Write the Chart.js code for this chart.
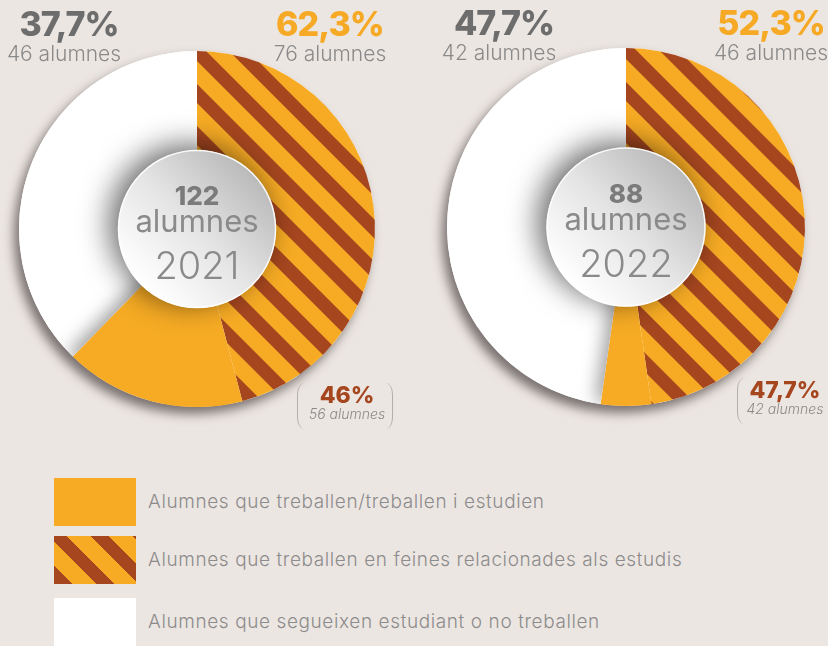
<!DOCTYPE html>
<html>
<head>
<meta charset="utf-8">
<script src="https://cdn.jsdelivr.net/npm/chart.js@4.4.0/dist/chart.umd.min.js"></script>
<style>
  html, body { margin: 0; padding: 0; }
  body {
    width: 828px; height: 646px; overflow: hidden; position: relative;
    background: #ece6e2; font-family: Inter, "Open Sans", sans-serif;
  }
  canvas.pie { position: absolute; }
  .etq { position: absolute; width: 200px; text-align: center; white-space: nowrap; z-index: 2; }
  .pct { font-weight: 800; font-size: 34px; line-height: 36px; letter-spacing: -1px; }
  .num { font-weight: 300; font-size: 21px; line-height: 21px; color: #8a8a8a; }
  .gris { color: #6d6d6d; }
  .taronja { color: #f6a924; }
  .marro { color: #a5461f; font-weight: 800; font-size: 23px; line-height: 23px; }
  .cursiva { font-style: italic; font-weight: 300; font-size: 14px; line-height: 14px; color: #8a8a8a; }
  .par { position: absolute; width: 14px; height: 46px; z-index: 2; border-radius: 100% / 50%; }
  .par.esq { border-left: 1.3px solid #b3adab; }
  .par.dre { border-right: 1.3px solid #b3adab; }
  .llegenda { position: absolute; left: 54px; height: 48px; z-index: 2; }
  .llegenda .mostra { position: absolute; left: 0; top: 0; width: 82px; height: 48px; }
  .llegenda .text { position: absolute; left: 94px; top: 12px; font-size: 19px; letter-spacing: 0.6px; line-height: 24px; font-weight: 300; color: #8c8c8c; white-space: nowrap; }
</style>
</head>
<body>
<canvas id="pie2021" class="pie" width="400" height="400" style="left:-3px; top:29px"></canvas>
<canvas id="pie2022" class="pie" width="400" height="400" style="left:426px; top:27px"></canvas>
<script>
// Dades per curs
const anys = ['2021', '2022'];
const categories = [
  'Alumnes que treballen/treballen i estudien',
  'Alumnes que treballen en feines relacionades als estudis',
  'Alumnes que segueixen estudiant o no treballen'
];
const relacionades = [56, 42];     // treballen en feines relacionades
const nomesTreballen = [20, 4];    // treballen, però no relacionat
const noTreballen = [46, 42];      // segueixen estudiant o no treballen
const pctTreballen = ['62,3%', '52,3%'];
const pctNoTreballen = ['37,7%', '47,7%'];
const pctRelacionades = ['46%', '47,7%'];

const TARONJA = '#f7ab24';
const MARRO = '#a5461f';
const BLANC = '#ffffff';

// patró de ratlles diagonals
function ferRatllat() {
  const P = 42, w = 19;
  const c = document.createElement('canvas');
  c.width = P; c.height = P;
  const g = c.getContext('2d');
  g.fillStyle = TARONJA;
  g.fillRect(0, 0, P, P);
  g.fillStyle = MARRO;
  for (let k = -P; k <= P; k += P) {
    g.beginPath();
    g.moveTo(k, 0);
    g.lineTo(k + w, 0);
    g.lineTo(k + w + P, P);
    g.lineTo(k + P, P);
    g.closePath();
    g.fill();
  }
  return g.createPattern(c, 'repeat');
}
const ratllat = ferRatllat();

// ombres, disc central i textos del centre
const ombres = {
  id: 'ombres',
  beforeDatasetsDraw(chart) {
    const arc = chart.getDatasetMeta(0).data[0];
    const ctx = chart.ctx;
    ctx.save();
    ctx.shadowColor = 'rgba(60,50,50,0.65)';
    ctx.shadowBlur = 11;
    ctx.shadowOffsetX = -5;
    ctx.shadowOffsetY = 7;
    ctx.fillStyle = '#fff';
    ctx.beginPath();
    ctx.arc(arc.x, arc.y, arc.outerRadius, 0, Math.PI * 2);
    ctx.fill();
    ctx.restore();
  },
  afterDatasetsDraw(chart, args, opts) {
    const meta = chart.getDatasetMeta(0);
    const taronja = meta.data[1], blanc = meta.data[2];
    const ctx = chart.ctx;
    const x = blanc.x, y = blanc.y, R = blanc.outerRadius;

    // ombra del tros taronja sobre el blanc
    ctx.save();
    ctx.beginPath();
    ctx.moveTo(x, y);
    ctx.arc(x, y, R, blanc.startAngle, blanc.endAngle);
    ctx.closePath();
    ctx.clip();
    ctx.shadowColor = 'rgba(0,0,0,0.38)';
    ctx.shadowBlur = 18;
    ctx.shadowOffsetX = -10000 - 5;
    ctx.shadowOffsetY = -3;
    ctx.translate(10000, 0);
    ctx.beginPath();
    ctx.moveTo(x, y);
    ctx.arc(x, y, R, taronja.startAngle, taronja.endAngle);
    ctx.closePath();
    ctx.fillStyle = '#000';
    ctx.fill();
    ctx.restore();

    // disc central
    const r = R * 0.444;
    ctx.save();
    ctx.shadowColor = 'rgba(0,0,0,0.6)';
    ctx.shadowBlur = 30;
    ctx.shadowOffsetX = -8;
    ctx.shadowOffsetY = -5;
    const g = ctx.createLinearGradient(x - r * 0.7, y + r * 0.7, x + r * 0.7, y - r * 0.7);
    g.addColorStop(0, '#ffffff');
    g.addColorStop(0.5, '#e4e4e4');
    g.addColorStop(1, '#bababa');
    ctx.fillStyle = g;
    ctx.beginPath();
    ctx.arc(x, y, r, 0, Math.PI * 2);
    ctx.fill();
    ctx.restore();
    ctx.save();
    ctx.strokeStyle = 'rgba(255,255,255,0.9)';
    ctx.lineWidth = 1.5;
    ctx.beginPath();
    ctx.arc(x, y, r - 0.5, 0, Math.PI * 2);
    ctx.stroke();

    // textos del centre
    const total = chart.data.datasets[0].data.reduce((a, b) => a + b, 0);
    ctx.textAlign = 'center';
    ctx.textBaseline = 'alphabetic';
    ctx.fillStyle = '#7b7b7b';
    ctx.font = '800 26px Inter, sans-serif';
    ctx.fillText(String(total), x, y - 24);
    ctx.fillStyle = '#8a8a8a';
    ctx.font = '400 31px Inter, sans-serif';
    ctx.fillText('alumnes', x, y + 3);
    ctx.font = '300 38px Inter, sans-serif';
    ctx.fillText(opts.any, x, y + 50);
    ctx.restore();
  }
};

anys.forEach((any, i) => {
  new Chart(document.getElementById('pie' + any), {
    type: 'pie',
    data: {
      labels: [categories[1], categories[0], categories[2]],
      datasets: [{
        data: [relacionades[i], nomesTreballen[i], noTreballen[i]],
        backgroundColor: [ratllat, TARONJA, BLANC],
        borderWidth: 0,
        hoverOffset: 0
      }]
    },
    options: {
      responsive: false,
      animation: false,
      layout: { padding: i === 0 ? 22 : 21 },
      plugins: {
        legend: { display: false },
        tooltip: { enabled: false },
        ombres: { any: any }
      }
    },
    plugins: [ombres]
  });
});

// etiquetes de valors
function etiqueta(text, cls, cx, top) {
  const d = document.createElement('div');
  d.className = 'etq ' + cls;
  d.style.left = (cx - 100) + 'px';
  d.style.top = top + 'px';
  d.textContent = text;
  document.body.appendChild(d);
}
const posNo = [69, 504], posSi = [330, 771], posRel = [347, 785];
const topRel = [384, 379];
anys.forEach((any, i) => {
  etiqueta(pctNoTreballen[i], 'pct gris', posNo[i], 6 - i);
  etiqueta(noTreballen[i] + ' alumnes', 'num', posNo[i] - 5, 43 - i);
  etiqueta(pctTreballen[i], 'pct taronja', posSi[i], 6 - i);
  etiqueta((relacionades[i] + nomesTreballen[i]) + ' alumnes', 'num', posSi[i], 43 - i);
  etiqueta(pctRelacionades[i], 'marro', posRel[i], topRel[i]);
  etiqueta(relacionades[i] + ' alumnes', 'cursiva', posRel[i], topRel[i] + 23);
});

// parèntesis
[[297, 383, 'esq'], [378, 383, 'dre'], [737, 378, 'esq']].forEach(p => {
  const d = document.createElement('div');
  d.className = 'par ' + p[2];
  d.style.left = p[0] + 'px';
  d.style.top = p[1] + 'px';
  document.body.appendChild(d);
});

// llegenda
const mostres = [
  TARONJA,
  'repeating-linear-gradient(45deg, ' + MARRO + ' 0 13.4px, ' + TARONJA + ' 13.4px 29.7px)',
  BLANC
];
const topsLlegenda = [478, 536, 598];
categories.forEach((cat, i) => {
  const fila = document.createElement('div');
  fila.className = 'llegenda';
  fila.style.top = topsLlegenda[i] + 'px';
  const m = document.createElement('div');
  m.className = 'mostra';
  m.style.background = mostres[i];
  const t = document.createElement('div');
  t.className = 'text';
  t.textContent = cat;
  fila.appendChild(m);
  fila.appendChild(t);
  document.body.appendChild(fila);
});
</script>
</body>
</html>
